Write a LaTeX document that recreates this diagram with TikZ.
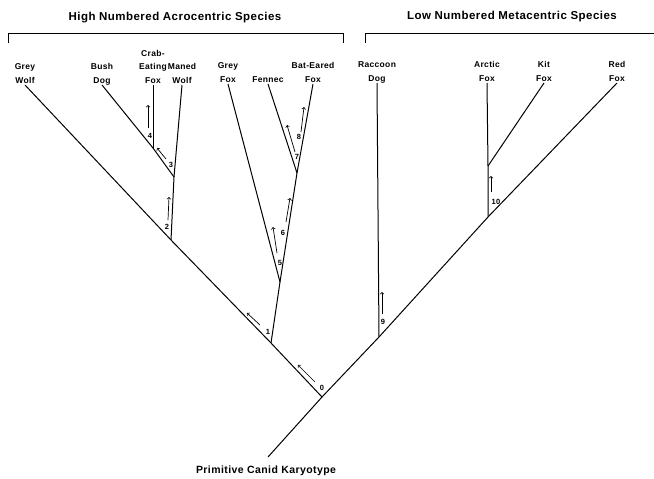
\documentclass[tikz,border=0pt]{standalone}
\usepackage{fontspec}
\setmainfont{Liberation Sans}[LetterSpace=4]
\begin{document}
\begin{tikzpicture}[x=1pt, y=-1pt, line width=1pt,
    specie/.style={font=\fontsize{8.5}{13.5}\selectfont\bfseries, align=center, anchor=south, inner sep=1.5pt, text depth=0pt},
    num/.style={font=\fontsize{7.5}{9}\selectfont\bfseries, inner sep=0pt},
    gruppo/.style={font=\fontsize{11.5}{13}\selectfont\bfseries},
    mut/.style={->, line width=0.7pt}]
    \useasboundingbox (0,0) rectangle (654,479);

    % Groups
    \node[gruppo] (alto) at (175,18) {High Numbered Acrocentric Species};
    \node[gruppo] (basso) at (512,17) {Low Numbered Metacentric Species};
    \draw[line width=0.8pt] (8,43) -- (8,33) -- (343,33) -- (343,43);
    \draw[line width=0.8pt] (365,43) -- (365,33) -- (654,33);

    % Species
    \node[specie] (greywolf) at (25,85) {Grey\\Wolf};
    \node[specie] (bushdog) at (102,85) {Bush\\Dog};
    \node[specie] (crabfox) at (153,85) {Crab-\\Eating\\Fox};
    \node[specie] (manedwolf) at (182,85) {Maned\\Wolf};
    \node[specie] (greyfox) at (228,84) {Grey\\Fox};
    \node[specie] (fennec) at (268,84) {Fennec};
    \node[specie] (batfox) at (313,84) {Bat-Eared\\Fox};
    \node[specie] (raccoon) at (377,83) {Raccoon\\Dog};
    \node[specie] (arcticfox) at (487,83) {Arctic\\Fox};
    \node[specie] (kitfox) at (544,83) {Kit\\Fox};
    \node[specie] (redfox) at (617,83) {Red\\Fox};

    % Branch points
    \coordinate (root) at (268,457);
    \coordinate (n0) at (322,397);
    \coordinate (n1) at (271,343);
    \coordinate (n2) at (171,240);
    \coordinate (n3) at (174,177);
    \coordinate (n4) at (153,148);
    \coordinate (n5) at (280,282);
    \coordinate (n7) at (297,173);
    \coordinate (n9) at (379,337);
    \coordinate (n10) at (488,217);
    \coordinate (n11) at (488,166);

    % Branches
    \draw (root) -- (n0) -- (n1) -- (n2) -- (greywolf.south);
    \draw (n2) -- (n3) -- (manedwolf.south);
    \draw (n3) -- (n4) -- (bushdog.south);
    \draw (n4) -- (crabfox.south);
    \draw (n1) -- (n5) -- (greyfox.south);
    \draw (n5) -- (n7) -- (batfox.south);
    \draw (n7) -- (fennec.south);
    \draw (n0) -- (n9) -- (n10) -- (redfox.south);
    \draw (n9) -- (raccoon.south);
    \draw (n10) -- (n11) -- (arcticfox.south);
    \draw (n11) -- (kitfox.south);

    % Changes
    \node[num] (l0) at (322,388) {0};
    \draw[mut] (315,382) -- (298,365);
    \node[num] (l1) at (268,332) {1};
    \draw[mut] (260,325) -- (247,313);
    \node[num] (l2) at (167,227) {2};
    \draw[mut] (168,220) -- (169,197);
    \node[num] (l3) at (171,165) {3};
    \draw[mut] (166,159) -- (157,148);
    \node[num] (l4) at (150,136) {4};
    \draw[mut] (148,128) -- (148,105);
    \node[num] (l5) at (280,263) {5};
    \draw[mut] (277,253) -- (273,227);
    \node[num] (l6) at (283,233) {6};
    \draw[mut] (286,222) -- (290,198);
    \node[num] (l7) at (297,157) {7};
    \draw[mut] (295,152) -- (287,125);
    \node[num] (l8) at (299,137) {8};
    \draw[mut] (301,132) -- (304,107);
    \node[num] (l9) at (383,322) {9};
    \draw[mut] (382,314) -- (382,292);
    \node[num] (l10) at (496,202) {10};
    \draw[mut] (491,192) -- (491,176);

    % Base
    \node[font=\fontsize{10.5}{12}\selectfont\bfseries] (base) at (266,471) {Primitive Canid Karyotype};
\end{tikzpicture}
\end{document}
